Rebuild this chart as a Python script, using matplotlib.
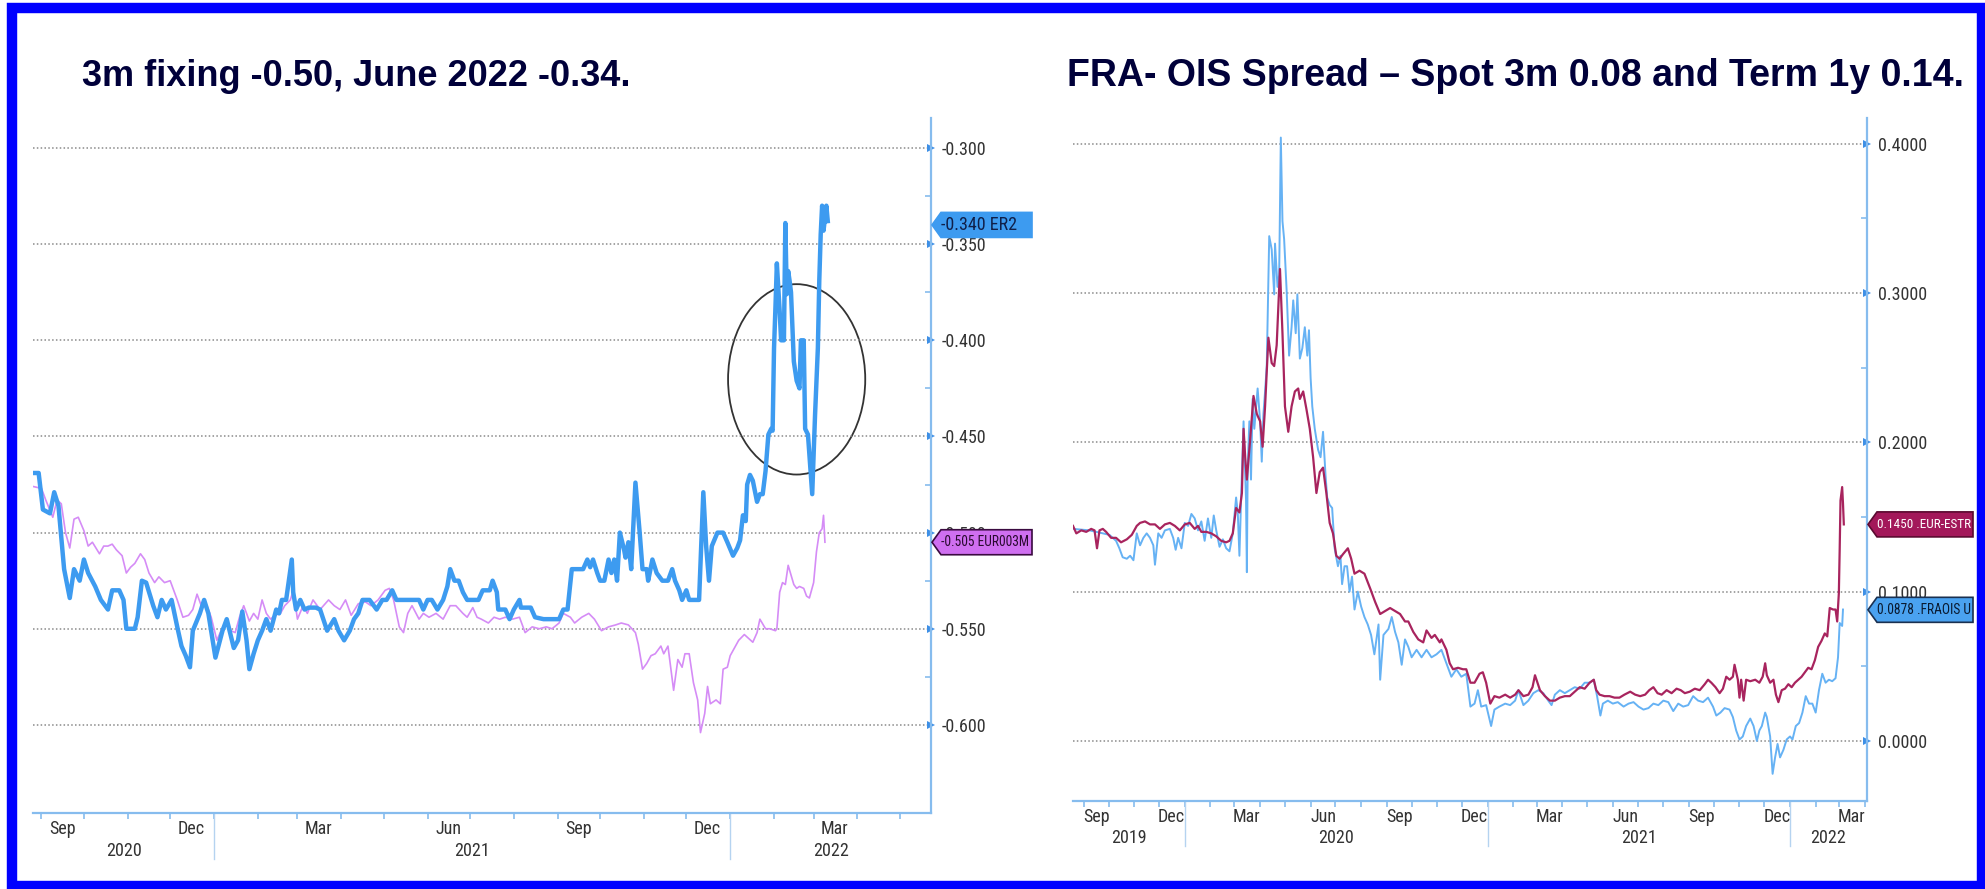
import numpy as np
import pandas as pd
import matplotlib
matplotlib.use('Agg')
import matplotlib.pyplot as plt
import matplotlib.dates as mdates
import matplotlib.transforms as mtrans
from matplotlib import font_manager as fm
from matplotlib.patches import Ellipse, Polygon, Rectangle

plt.rcParams['font.family'] = ['Liberation Sans', 'DejaVu Sans']


def narrow_font():
    # Bloomberg axis text is a condensed face; use one if the machine has it
    prefs = ['Liberation Sans Narrow', 'Roboto Condensed', 'Noto Sans', 'Open Sans', 'DejaVu Sans']
    found = []
    for f in fm.fontManager.ttflist:
        tag = (f.name + ' ' + f.fname + ' ' + str(f.stretch)).lower()
        if ('condensed' in tag or 'narrow' in tag) and 'bold' not in tag and 'italic' not in tag \
                and 'oblique' not in tag and 'light' not in tag and 'semi' not in tag \
                and 'extra' not in tag and 'mono' not in tag and 'serif' not in f.name.lower():
            found.append(f)
    for p in prefs:
        for f in found:
            if f.name.startswith(p):
                return fm.FontProperties(fname=f.fname)
    if found:
        return fm.FontProperties(fname=found[0].fname)
    return fm.FontProperties(family='Roboto')


NARROW = narrow_font()

# ---- left chart: ER2 (June 2022 implied rate) and 3m Euribor fixing, days from 2021-01-01
ER2_DAYS = [-128, -124, -121, -116, -113, -110, -106, -102, -99, -95, -92, -89, -84, -80, -75, -72,
            -67, -64, -62, -56, -54, -51, -48, -43, -40, -37, -34, -30, -26, -23, -20, -17, -15,
            -10, -7, -4, 1, 6, 9, 14, 17, 20, 23, 25, 28, 31, 34, 37, 40, 44, 46, 48, 51, 55, 56,
            58, 61, 64, 67, 72, 75, 80, 85, 88, 92, 96, 99, 102, 105, 110, 115, 119, 122, 126,
            129, 134, 138, 145, 148, 151, 154, 158, 162, 165, 167, 170, 173, 176, 179, 184, 187,
            190, 195, 197, 200, 201, 206, 209, 212, 216, 217, 224, 227, 233, 239, 244, 247, 250,
            253, 257, 261, 264, 266, 268, 271, 273, 276, 279, 281, 283, 285, 287, 290, 291, 293,
            295, 298, 301, 303, 306, 307, 310, 313, 317, 321, 324, 326, 329, 331, 334, 336, 340,
            343, 346, 348, 350, 352, 356, 360, 363, 367, 370, 372, 374, 376, 377, 379, 381, 384,
            386, 388, 390, 392, 394, 395, 396, 397, 398, 400, 401, 403, 404, 405, 406, 407, 408,
            410, 412, 414, 415, 417, 418, 420, 423, 425, 427, 428, 429, 430, 431, 433, 434]
ER2_VALS = [-0.469, -0.469, -0.488, -0.490, -0.479, -0.486, -0.519, -0.534, -0.519, -0.525, -0.514,
            -0.521, -0.528, -0.535, -0.540, -0.530, -0.530, -0.535, -0.550, -0.550, -0.544, -0.525,
            -0.526, -0.538, -0.544, -0.535, -0.540, -0.535, -0.549, -0.559, -0.564, -0.570, -0.551,
            -0.542, -0.535, -0.542, -0.565, -0.551, -0.545, -0.560, -0.556, -0.541, -0.556, -0.571,
            -0.563, -0.556, -0.551, -0.545, -0.551, -0.540, -0.542, -0.535, -0.535, -0.514, -0.531,
            -0.540, -0.535, -0.540, -0.539, -0.539, -0.540, -0.551, -0.545, -0.551, -0.556, -0.551,
            -0.545, -0.542, -0.535, -0.535, -0.540, -0.535, -0.535, -0.530, -0.535, -0.535, -0.535,
            -0.535, -0.540, -0.535, -0.535, -0.540, -0.535, -0.528, -0.519, -0.525, -0.525, -0.531,
            -0.535, -0.535, -0.535, -0.530, -0.530, -0.525, -0.531, -0.540, -0.540, -0.545, -0.540,
            -0.535, -0.539, -0.539, -0.544, -0.545, -0.545, -0.545, -0.540, -0.540, -0.519, -0.519,
            -0.519, -0.514, -0.518, -0.514, -0.521, -0.525, -0.525, -0.514, -0.521, -0.514, -0.525,
            -0.500, -0.509, -0.513, -0.505, -0.519, -0.474, -0.500, -0.519, -0.519, -0.525, -0.514,
            -0.521, -0.525, -0.525, -0.519, -0.525, -0.530, -0.535, -0.530, -0.535, -0.535, -0.535,
            -0.479, -0.507, -0.525, -0.507, -0.500, -0.500, -0.505, -0.512, -0.508, -0.504, -0.491,
            -0.494, -0.475, -0.470, -0.473, -0.484, -0.480, -0.480, -0.468, -0.449, -0.446, -0.447,
            -0.404, -0.383, -0.360, -0.385, -0.400, -0.400, -0.339, -0.376, -0.364, -0.369, -0.375,
            -0.411, -0.421, -0.425, -0.400, -0.400, -0.446, -0.449, -0.480, -0.439, -0.404, -0.369,
            -0.345, -0.330, -0.343, -0.330, -0.338]

FIX_DAYS = [-128, -122, -119, -114, -111, -108, -105, -102, -99, -96, -92, -89, -86, -81, -78, -75,
            -72, -69, -65, -62, -59, -56, -52, -49, -46, -42, -39, -35, -31, -26, -22, -18, -15,
            -12, -9, -5, -2, 2, 5, 9, 12, 15, 18, 21, 25, 28, 31, 34, 37, 40, 43, 47, 50, 54, 56,
            59, 63, 66, 70, 75, 81, 85, 89, 93, 97, 102, 107, 111, 116, 121, 124, 127, 131, 134,
            137, 140, 145, 148, 152, 157, 162, 167, 171, 176, 179, 183, 186, 189, 194, 198, 202,
            206, 211, 216, 220, 225, 230, 235, 239, 244, 247, 252, 255, 260, 265, 269, 274, 279,
            284, 288, 293, 298, 300, 303, 306, 309, 312, 316, 318, 321, 325, 328, 331, 333, 336,
            339, 342, 344, 347, 349, 351, 355, 358, 360, 363, 365, 368, 371, 375, 381, 384, 386,
            390, 393, 397, 398, 400, 402, 404, 406, 408, 410, 412, 414, 417, 419, 421, 424, 426,
            428, 430, 431, 432]
FIX_VALS = [-0.476, -0.477, -0.483, -0.492, -0.483, -0.485, -0.500, -0.508, -0.493, -0.492, -0.499,
            -0.507, -0.505, -0.511, -0.507, -0.507, -0.506, -0.509, -0.512, -0.521, -0.518, -0.516,
            -0.511, -0.514, -0.521, -0.526, -0.523, -0.526, -0.525, -0.535, -0.544, -0.543, -0.540,
            -0.532, -0.538, -0.538, -0.544, -0.556, -0.551, -0.545, -0.551, -0.552, -0.544, -0.538,
            -0.546, -0.542, -0.545, -0.535, -0.542, -0.545, -0.543, -0.542, -0.538, -0.535, -0.530,
            -0.545, -0.538, -0.542, -0.535, -0.540, -0.535, -0.538, -0.540, -0.535, -0.543, -0.537,
            -0.536, -0.538, -0.535, -0.530, -0.529, -0.535, -0.549, -0.552, -0.542, -0.538, -0.545,
            -0.542, -0.544, -0.542, -0.545, -0.538, -0.538, -0.542, -0.544, -0.539, -0.544, -0.545,
            -0.547, -0.544, -0.545, -0.544, -0.545, -0.544, -0.552, -0.549, -0.550, -0.549, -0.550,
            -0.547, -0.542, -0.544, -0.547, -0.544, -0.542, -0.545, -0.551, -0.549, -0.548, -0.547,
            -0.548, -0.552, -0.558, -0.571, -0.568, -0.564, -0.563, -0.559, -0.563, -0.559, -0.582,
            -0.566, -0.570, -0.563, -0.563, -0.578, -0.587, -0.604, -0.594, -0.580, -0.589, -0.587,
            -0.589, -0.571, -0.570, -0.564, -0.560, -0.556, -0.553, -0.557, -0.552, -0.545, -0.550,
            -0.550, -0.551, -0.550, -0.531, -0.526, -0.527, -0.517, -0.522, -0.527, -0.529, -0.528,
            -0.529, -0.533, -0.534, -0.526, -0.510, -0.500, -0.498, -0.491, -0.505]

# ---- right chart: FRA-OIS spreads, days from 2020-01-01
ESTR_DAYS = [-135, -131, -125, -119, -113, -109, -106, -103, -99, -95, -89, -83, -77, -70, -64, -58,
             -54, -48, -42, -36, -30, -24, -18, -12, -6, 0, 6, 12, 16, 20, 26, 32, 38, 44, 50, 54,
             58, 62, 66, 69, 71, 73, 75, 79, 83, 87, 91, 94, 97, 101, 105, 108, 111, 115, 118, 121,
             125, 129, 133, 137, 139, 143, 147, 151, 155, 159, 163, 167, 171, 175, 179, 183, 187,
             191, 197, 201, 205, 211, 217, 224, 230, 236, 242, 248, 254, 260, 266, 270, 276, 282,
             288, 292, 298, 302, 308, 310, 316, 320, 324, 330, 336, 340, 345, 350, 356, 360, 364,
             369, 374, 380, 387, 393, 399, 403, 409, 415, 420, 423, 426, 429, 435, 441, 447, 453,
             459, 465, 471, 477, 483, 489, 494, 497, 501, 507, 513, 519, 525, 531, 538, 544, 550,
             556, 561, 566, 571, 576, 582, 588, 594, 599, 604, 610, 616, 622, 628, 632, 636, 641,
             646, 650, 654, 658, 662, 664, 668, 670, 672, 675, 678, 683, 689, 694, 698, 701, 703,
             707, 711, 714, 717, 721, 725, 729, 733, 737, 741, 745, 749, 753, 757, 761, 765, 769,
             773, 776, 779, 783, 786, 788, 790, 791, 792, 794, 795, 796]
ESTR_VALS = [0.144, 0.139, 0.141, 0.140, 0.142, 0.141, 0.129, 0.141, 0.142, 0.140, 0.136, 0.136, 0.133,
             0.135, 0.138, 0.144, 0.146, 0.147, 0.145, 0.145, 0.142, 0.145, 0.146, 0.144, 0.141, 0.145,
             0.146, 0.142, 0.144, 0.140, 0.140, 0.139, 0.137, 0.134, 0.133, 0.134, 0.139, 0.156, 0.153,
             0.166, 0.209, 0.190, 0.175, 0.202, 0.231, 0.219, 0.214, 0.197, 0.224, 0.270, 0.253, 0.251,
             0.265, 0.316, 0.273, 0.224, 0.207, 0.224, 0.234, 0.236, 0.229, 0.234, 0.222, 0.209, 0.190,
             0.166, 0.180, 0.183, 0.166, 0.146, 0.139, 0.124, 0.122, 0.125, 0.129, 0.122, 0.112, 0.114,
             0.112, 0.102, 0.093, 0.085, 0.087, 0.089, 0.087, 0.085, 0.080, 0.080, 0.073, 0.068, 0.066,
             0.074, 0.069, 0.071, 0.066, 0.068, 0.061, 0.052, 0.048, 0.049, 0.048, 0.048, 0.039, 0.039,
             0.045, 0.046, 0.039, 0.025, 0.030, 0.029, 0.031, 0.029, 0.031, 0.034, 0.030, 0.031, 0.036,
             0.044, 0.039, 0.034, 0.030, 0.027, 0.027, 0.029, 0.030, 0.030, 0.033, 0.036, 0.035, 0.039,
             0.041, 0.034, 0.031, 0.030, 0.030, 0.029, 0.029, 0.031, 0.033, 0.031, 0.030, 0.031, 0.034,
             0.036, 0.032, 0.031, 0.034, 0.032, 0.035, 0.034, 0.032, 0.033, 0.035, 0.034, 0.038, 0.041,
             0.039, 0.036, 0.032, 0.035, 0.043, 0.041, 0.043, 0.051, 0.041, 0.029, 0.041, 0.027, 0.041,
             0.040, 0.041, 0.039, 0.043, 0.052, 0.044, 0.039, 0.041, 0.031, 0.026, 0.034, 0.035, 0.038,
             0.036, 0.039, 0.041, 0.043, 0.046, 0.049, 0.048, 0.054, 0.063, 0.067, 0.072, 0.070, 0.089,
             0.088, 0.088, 0.080, 0.099, 0.128, 0.161, 0.170, 0.159, 0.145]

FRAOIS_DAYS = [-135, -115, -91, -83, -79, -75, -70, -66, -62, -58, -54, -50, -46, -42, -38, -36, -32,
               -28, -24, -18, -14, -11, -8, -4, 0, 4, 8, 12, 16, 20, 24, 28, 32, 35, 38, 42, 46, 50,
               54, 58, 62, 64, 66, 68, 71, 74, 75, 76, 78, 80, 82, 84, 88, 91, 93, 95, 97, 99, 102,
               105, 108, 109, 112, 114, 116, 118, 120, 123, 126, 129, 131, 134, 136, 139, 142, 145,
               148, 150, 152, 154, 157, 161, 164, 167, 170, 172, 175, 178, 181, 185, 188, 190, 193,
               196, 199, 202, 205, 209, 213, 217, 221, 225, 229, 234, 236, 240, 246, 250, 254, 258,
               262, 266, 270, 274, 280, 286, 292, 298, 304, 310, 316, 322, 328, 334, 340, 345, 350,
               354, 358, 364, 370, 374, 380, 387, 393, 399, 403, 409, 415, 421, 427, 433, 439, 443,
               447, 453, 459, 465, 471, 477, 483, 489, 494, 498, 502, 505, 511, 517, 523, 530, 536,
               542, 548, 554, 560, 566, 572, 578, 584, 590, 596, 602, 608, 614, 620, 626, 632, 638,
               642, 647, 652, 658, 662, 666, 670, 674, 678, 683, 687, 691, 694, 697, 701, 703, 707,
               710, 713, 716, 719, 723, 727, 731, 734, 738, 742, 746, 750, 754, 758, 762, 766, 770,
               774, 778, 782, 786, 789, 791, 794, 795]
FRAOIS_VALS = [0.142, 0.141, 0.138, 0.134, 0.129, 0.123, 0.122, 0.124, 0.121, 0.139, 0.131, 0.136,
               0.139, 0.136, 0.131, 0.118, 0.139, 0.136, 0.141, 0.142, 0.136, 0.128, 0.136, 0.129,
               0.146, 0.144, 0.152, 0.149, 0.141, 0.147, 0.134, 0.149, 0.136, 0.151, 0.141, 0.130,
               0.135, 0.129, 0.127, 0.139, 0.163, 0.153, 0.124, 0.161, 0.214, 0.161, 0.113, 0.183,
               0.214, 0.175, 0.229, 0.209, 0.236, 0.214, 0.187, 0.219, 0.234, 0.251, 0.338, 0.329,
               0.299, 0.333, 0.304, 0.312, 0.404, 0.348, 0.336, 0.302, 0.258, 0.277, 0.295, 0.273,
               0.299, 0.256, 0.263, 0.277, 0.258, 0.275, 0.243, 0.224, 0.209, 0.195, 0.190, 0.207,
               0.178, 0.163, 0.158, 0.156, 0.129, 0.117, 0.124, 0.105, 0.117, 0.117, 0.100, 0.110,
               0.088, 0.100, 0.090, 0.083, 0.078, 0.071, 0.058, 0.078, 0.041, 0.071, 0.075, 0.083,
               0.073, 0.066, 0.051, 0.068, 0.063, 0.056, 0.061, 0.056, 0.061, 0.056, 0.058, 0.061,
               0.052, 0.043, 0.048, 0.043, 0.045, 0.023, 0.025, 0.034, 0.023, 0.024, 0.010, 0.021,
               0.023, 0.025, 0.024, 0.027, 0.034, 0.024, 0.027, 0.032, 0.034, 0.032, 0.027, 0.024,
               0.031, 0.034, 0.032, 0.034, 0.036, 0.035, 0.039, 0.039, 0.041, 0.030, 0.017, 0.025,
               0.027, 0.025, 0.026, 0.023, 0.025, 0.026, 0.023, 0.021, 0.022, 0.025, 0.024, 0.027,
               0.026, 0.020, 0.025, 0.023, 0.024, 0.030, 0.027, 0.026, 0.029, 0.023, 0.017, 0.019,
               0.022, 0.021, 0.016, 0.007, 0.001, 0.003, 0.010, 0.015, 0.010, 0.000, 0.007, 0.010,
               0.019, 0.016, 0.003, -0.022, -0.011, -0.002, -0.011, -0.006, 0.001, 0.003, 0.001,
               0.010, 0.012, 0.019, 0.030, 0.025, 0.025, 0.019, 0.034, 0.045, 0.039, 0.041, 0.040,
               0.042, 0.056, 0.079, 0.077, 0.088]

LEFT_TITLE = '3m fixing -0.50, June 2022 -0.34.'
RIGHT_TITLE = 'FRA- OIS Spread \u2013 Spot 3m 0.08 and Term 1y 0.14.'
LEFT_YTICKS = [-0.600, -0.550, -0.500, -0.450, -0.400, -0.350, -0.300]
RIGHT_YTICKS = [0.0, 0.1, 0.2, 0.3, 0.4]

AXIS_BLUE = '#86bcee'
TICK_BLUE = '#3d8fe6'
W, H = 1985, 889
LABEL_SIZE = 13


def txt(size=LABEL_SIZE, color='#333333'):
    fp = NARROW.copy()
    fp.set_size(size)
    return dict(fontproperties=fp, color=color)


def to_dates(base, days):
    return pd.Timestamp(base) + pd.to_timedelta(days, unit='D')


def setup_axes(ax, xlim, ylim, yticks, fmt, month_dy, year_dy):
    ax.set_xlim(pd.Timestamp(xlim[0]), pd.Timestamp(xlim[1]))
    ax.set_ylim(*ylim)
    for s in ['top', 'left']:
        ax.spines[s].set_visible(False)
    for s in ['right', 'bottom']:
        ax.spines[s].set_color(AXIS_BLUE)
        ax.spines[s].set_linewidth(1.6)

    ax.yaxis.tick_right()
    ax.set_yticks(yticks)
    ax.set_yticklabels([fmt.format(t) for t in yticks], **txt())
    step = yticks[1] - yticks[0]
    ax.set_yticks([t + step / 2 for t in yticks[:-1]], minor=True)
    ax.tick_params(axis='y', which='major', length=0, pad=8)
    ax.tick_params(axis='y', which='minor', length=4, direction='in', color=AXIS_BLUE, width=1.2)
    ax.grid(axis='y', color='#8a8a8a', linestyle=(0, (1, 1.5)), linewidth=1.1)
    ax.plot([1] * len(yticks), yticks, '>', ms=6, color=TICK_BLUE, mew=0,
            transform=mtrans.blended_transform_factory(ax.transAxes, ax.transData), clip_on=False)

    months = pd.date_range(pd.Timestamp(xlim[0]).replace(day=1), xlim[1], freq='MS')
    months = months[months >= pd.Timestamp(xlim[0])]
    ax.set_xticks(months)
    ax.set_xticklabels([])
    ax.tick_params(axis='x', which='major', length=4, direction='out', color=AXIS_BLUE, width=1.2)

    bl = mtrans.blended_transform_factory(ax.transData, ax.transAxes)
    off_m = bl + mtrans.ScaledTranslation(0, -month_dy / 100, ax.figure.dpi_scale_trans)
    off_y = bl + mtrans.ScaledTranslation(0, -year_dy / 100, ax.figure.dpi_scale_trans)
    for m in months:
        if m.month in (3, 6, 9, 12):
            ax.text(m + pd.Timedelta(days=15), 0, m.strftime('%b'), transform=off_m, ha='center',
                    va='center', **txt())
    x0, x1 = pd.Timestamp(xlim[0]), pd.Timestamp(xlim[1])
    for yr in range(x0.year, x1.year + 1):
        a = max(x0, pd.Timestamp(f'{yr}-01-01'))
        b = min(x1, pd.Timestamp(f'{yr + 1}-01-01'))
        ax.text(a + (b - a) / 2, 0, str(yr), transform=off_y, ha='center', va='center', **txt())
        if yr > x0.year:
            ax.plot([a, a], [0, -(year_dy + 8) / (ax.get_position().height * H)], color='#b5d3f0',
                    lw=1, transform=bl, clip_on=False)


def tag(fig, ax, value, text, face, edge, tcolor, width):
    x0 = ax.transAxes.transform((1, 0))[0]
    y = ax.transData.transform((ax.get_xlim()[0], value))[1]
    h = 25
    pts = [(x0 + 1, y), (x0 + 10, y + h / 2), (x0 + width, y + h / 2),
           (x0 + width, y - h / 2), (x0 + 10, y - h / 2)]
    fig.patches.append(Polygon(pts, closed=True, facecolor=face, edgecolor=edge, lw=1.2,
                               transform=mtrans.IdentityTransform(), figure=fig))
    t = fig.text(x0 + 10, y, text, transform=mtrans.IdentityTransform(), ha='left', va='center',
                 **txt(color=tcolor))
    # shrink the label until it sits inside its box
    r = fig.canvas.get_renderer()
    size = LABEL_SIZE
    while t.get_window_extent(r).width > width - 11 and size > 7:
        size -= 0.25
        t.set_fontsize(size)


fig = plt.figure(figsize=(W / 100, H / 100), dpi=100)
fig.patch.set_facecolor('white')

# left panel
axl = fig.add_axes([33 / W, 1 - 813 / H, 898 / W, 695 / H])
setup_axes(axl, ('2020-08-26', '2022-05-23'), (-0.6458, -0.2844), LEFT_YTICKS, '{:.3f}', 16, 38)
axl.plot(to_dates('2021-01-01', FIX_DAYS), FIX_VALS, color='#d58cf6', lw=1.2)
axl.plot(to_dates('2021-01-01', ER2_DAYS), ER2_VALS, color='#3d9bf0', lw=3.2, solid_joinstyle='round')
centre = mdates.date2num(pd.Timestamp('2022-02-17'))
axl.add_patch(Ellipse((centre, -0.4203), 97, 0.099, fill=False, edgecolor='#333333', lw=1.3))

# right panel
axr = fig.add_axes([1073 / W, 1 - 801 / H, 794 / W, 683 / H])
setup_axes(axr, ('2019-08-19', '2022-04-04'), (-0.0402, 0.4171), RIGHT_YTICKS, '{:.4f}', 16, 37)
axr.plot(to_dates('2020-01-01', FRAOIS_DAYS), FRAOIS_VALS, color='#66b2f4', lw=1.4)
axr.plot(to_dates('2020-01-01', ESTR_DAYS), ESTR_VALS, color='#a8245e', lw=1.6)

tag(fig, axl, -0.340, '-0.340 ER2', '#3d9bf0', '#3d9bf0', '#10204a', 101)
tag(fig, axl, -0.505, '-0.505 EUR003M', '#cf6ff0', '#3a0a40', '#2a0a30', 101)
tag(fig, axr, 0.1450, '0.1450 .EUR-ESTR', '#a3185a', '#5a0a30', 'white', 106)
tag(fig, axr, 0.0878, '0.0878 .FRAOIS U', '#4aa2f0', '#1a3050', '#0a1a30', 106)

fig.text(82 / W, 1 - 76 / H, LEFT_TITLE, ha='left', va='center', fontsize=26, fontweight='bold',
         color='#00003a')
fig.text(1067 / W, 1 - 76 / H, RIGHT_TITLE, ha='left', va='center', fontsize=27, fontweight='bold',
         color='#00003a')

# blue frame
fig.patches.append(Rectangle((11.5, H - 886), 1970, 878, fill=False, edgecolor='#0000ff', lw=7.5,
                             transform=mtrans.IdentityTransform(), figure=fig))

fig.savefig('out.png', dpi=100)
